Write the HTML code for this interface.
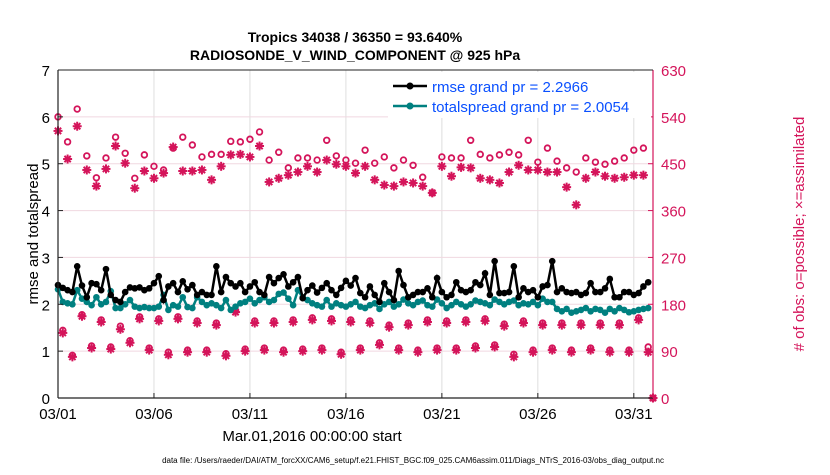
<!DOCTYPE html>
<html><head><meta charset="utf-8"><style>
body{margin:0;background:#fff;width:830px;height:470px;overflow:hidden;font-family:"Liberation Sans",sans-serif}
svg text{font-family:"Liberation Sans",sans-serif}
</style></head><body>
<svg id="chart" width="830" height="470">
<text x="355" y="42" text-anchor="middle" font-size="14" font-weight="bold">Tropics 34038 / 36350 = 93.640%</text>
<text x="355" y="60" text-anchor="middle" font-size="14" font-weight="bold">RADIOSONDE_V_WIND_COMPONENT @ 925 hPa</text>
<g id="grid"></g><g id="marks"></g><g id="axes"></g>
<text transform="translate(38,234) rotate(-90)" text-anchor="middle" font-size="15">rmse and totalspread</text>
<text transform="translate(804,234) rotate(-90)" text-anchor="middle" font-size="15" fill="#d4145a"># of obs: o=possible; ×=assimilated</text>
<text x="312" y="441" text-anchor="middle" font-size="15">Mar.01,2016 00:00:00 start</text>
<text x="413" y="463" text-anchor="middle" font-size="8">data file: /Users/raeder/DAI/ATM_forcXX/CAM6_setup/f.e21.FHIST_BGC.f09_025.CAM6assim.011/Diags_NTrS_2016-03/obs_diag_output.nc</text>
<g>
<rect x="388" y="72" width="263" height="46" fill="#fff" stroke="none"/>
<line x1="393" y1="86" x2="427" y2="86" stroke="#000" stroke-width="2.5"/><circle cx="410" cy="86" r="3.5" fill="#000"/>
<text x="432" y="92" font-size="15" fill="#0a50ff">rmse grand pr = 2.2966</text>
<line x1="393" y1="106" x2="427" y2="106" stroke="#008080" stroke-width="2.5"/><circle cx="410" cy="106" r="3.5" fill="#008080"/>
<text x="432" y="112" font-size="15" fill="#0a50ff">totalspread grand pr = 2.0054</text>
</g>
</svg>
<script>
const dayTicks=[0,5,10,15,20,25,30];
const dayLabels=["03/01","03/06","03/11","03/16","03/21","03/26","03/31"];
const leftTicks=[0,1,2,3,4,5,6,7];
const rightTicks=[0,90,180,270,360,450,540,630];
const rmse=[2.41,2.35,2.30,2.26,2.81,2.40,2.15,2.45,2.43,2.30,2.75,2.20,2.09,2.05,2.26,2.36,2.34,2.36,2.30,2.34,2.45,2.60,2.09,2.38,2.45,2.26,2.49,2.32,2.41,2.20,2.26,2.20,2.20,2.81,2.26,2.58,2.45,2.38,2.45,2.26,2.38,2.47,2.26,2.20,2.58,2.45,2.56,2.64,2.38,2.47,2.58,2.13,2.30,2.40,2.25,2.35,2.45,2.30,2.20,2.35,2.50,2.40,
2.56,2.24,2.15,2.38,2.20,2.05,2.45,2.26,2.09,2.71,2.41,2.15,2.20,2.26,2.26,2.34,2.15,2.56,2.26,2.15,2.20,2.47,2.30,2.26,2.30,2.47,2.41,2.66,2.20,2.92,2.24,2.24,2.26,2.81,2.15,2.34,2.26,2.30,2.15,2.38,2.41,2.92,2.26,2.34,2.26,2.24,2.26,2.20,2.24,2.45,2.26,2.26,2.34,2.54,2.15,2.15,2.26,2.26,2.20,2.24,2.38,2.47];
const spread=[2.32,2.05,2.02,2.00,2.30,2.12,2.05,1.98,2.15,2.00,2.05,2.28,1.92,1.92,2.00,2.09,1.95,1.92,1.94,1.92,1.92,1.95,2.20,1.88,1.98,1.95,2.15,1.94,1.92,2.15,2.05,1.98,2.02,1.98,1.92,2.09,1.88,1.95,2.02,2.05,2.12,2.02,2.09,2.15,2.05,2.09,2.22,2.25,2.12,1.98,2.30,2.15,2.09,2.02,1.98,1.95,2.09,1.95,2.02,1.98,1.95,2.00,
2.05,1.95,1.92,1.98,2.02,1.90,2.00,2.05,1.95,2.00,2.10,2.02,1.98,2.05,2.08,1.98,1.95,2.10,2.02,1.92,1.98,2.05,2.00,1.95,2.00,2.08,2.05,2.02,1.98,2.10,2.05,2.00,2.05,2.08,1.98,2.02,2.00,2.05,1.98,2.12,2.05,2.05,1.90,1.85,1.90,1.82,1.85,1.88,1.92,1.85,1.90,1.88,1.82,1.90,1.85,1.92,1.88,1.83,1.85,1.88,1.90,1.92];
const highPossible=[540,492,555,465,423,461,501,470,422,467,445,438,480,501,486,463,468,468,493,492,497,511,457,472,442,461,461,457,495,465,457,451,476,451,463,442,457,447,424,394,463,461,461,495,468,461,467,472,467,495,453,480,455,442,434,461,453,449,455,461,476,480];
const highAssim=[513,459,522,438,407,440,484,451,403,436,422,432,482,436,436,438,419,445,467,468,463,484,415,422,428,434,445,434,457,449,445,432,445,419,409,407,415,413,407,394,445,426,443,442,422,419,413,434,447,438,438,434,434,405,371,422,434,426,422,424,428,428];
const lowPossible=[130,82,160,100,150,98,138,110,156,96,152,88,156,92,148,92,144,85,168,94,148,96,148,92,150,94,154,96,152,88,150,96,148,106,140,96,144,92,150,96,148,96,150,100,152,102,142,84,148,92,144,96,144,92,144,96,144,92,144,92,154,98,0];
const lowAssim=[125,79,157,96,146,94,132,106,152,92,148,83,152,88,144,88,140,81,165,90,144,92,144,88,146,90,150,92,148,84,146,92,144,102,136,92,140,88,146,92,144,92,146,96,148,98,138,79,144,88,140,92,140,88,140,92,140,88,140,88,150,88,0];

const X0=58,X1=653,Y0=398,Y1=70,DAYS=31;
const xS=d=>X0+d*(X1-X0)/DAYS;
const yL=v=>Y0-v*(Y0-Y1)/7;
const yR=c=>Y0-c*(Y0-Y1)/630;
const NS="http://www.w3.org/2000/svg";
function mk(tag,attrs,parent){const e=document.createElementNS(NS,tag);for(const k in attrs)e.setAttribute(k,attrs[k]);parent.appendChild(e);return e;}
const grid=document.getElementById('grid'),marks=document.getElementById('marks'),axes=document.getElementById('axes');
dayTicks.forEach((d,i)=>{
  const l=mk('line',{x1:xS(d),x2:xS(d),y1:Y1,y2:Y0,stroke:'#dedede','stroke-width':1},grid);
  
  
  mk('line',{x1:xS(d),x2:xS(d),y1:Y0,y2:Y0-5,stroke:'#222'},axes);
  const t=mk('text',{x:xS(d),y:Y0+21,'text-anchor':'middle','font-size':15},axes);
  t.textContent=dayLabels[i];
  
  
});
leftTicks.forEach(v=>{
  if(v>0&&v<7){const g=mk('line',{x1:X0,x2:X1,y1:yL(v),y2:yL(v),stroke:'#f0d8e0','stroke-width':1},grid);
  
  }
  mk('line',{x1:X0,x2:X0+5,y1:yL(v),y2:yL(v),stroke:'#222'},axes);
  const t=mk('text',{x:X0-8,y:yL(v)+6,'text-anchor':'end','font-size':15},axes);
  t.textContent=v;
  
  
});
rightTicks.forEach(c=>{
  mk('line',{x1:X1-5,x2:X1,y1:yR(c),y2:yR(c),stroke:'#d4145a'},axes);
  const t=mk('text',{x:X1+8,y:yR(c)+6,'font-size':15,fill:'#d4145a'},axes);
  t.textContent=c;
  
  
});
mk('line',{x1:X0,x2:X0,y1:Y1,y2:Y0,stroke:'#222','stroke-width':1.2},axes);
mk('line',{x1:X0,x2:X1,y1:Y0,y2:Y0,stroke:'#222','stroke-width':1.2},axes);
mk('line',{x1:X1,x2:X1,y1:Y1,y2:Y0,stroke:'#d4145a','stroke-width':1.2},axes);
mk('line',{x1:X0,x2:X1,y1:Y1,y2:Y1,stroke:'#222','stroke-width':1},axes);

const PINK='#d4145a';
function circ(x,y,name){const c=mk('circle',{cx:x,cy:y,r:2.8,fill:'none',stroke:PINK,'stroke-width':1.8},marks);
  
  }
function star(x,y,name){const g=mk('g',{stroke:PINK,'stroke-width':2},marks);
  
  
  const r=4.5;[[r,0],[0,r],[r*.7,r*.7],[r*.7,-r*.7]].forEach(([a,b])=>mk('line',{x1:x-a,y1:y-b,x2:x+a,y2:y+b},g));}
highPossible.forEach((c,i)=>circ(xS(i*0.5),yR(c),'possible-obs-marker'));
highAssim.forEach((c,i)=>star(xS(i*0.5),yR(c),'assimilated-obs-marker'));
lowPossible.forEach((c,i)=>{const d=i<62?0.25+i*0.5:31;circ(xS(d),yR(c),'possible-obs-marker');});
lowAssim.forEach((c,i)=>{const d=i<62?0.25+i*0.5:31;star(xS(d),yR(c),'assimilated-obs-marker');});

function series(arr,color,name){
  const pts=arr.map((v,i)=>xS(i*0.25)+','+yL(v)).join(' ');
  const p=mk('polyline',{points:pts,fill:'none',stroke:color,'stroke-width':2.5},marks);
  
  
  arr.forEach((v,i)=>{const c=mk('circle',{cx:xS(i*0.25),cy:yL(v),r:3.3,fill:color},marks);
    
    });
}
series(spread,'#008080','totalspread');
series(rmse,'#000000','rmse');
</script>
</body></html>
